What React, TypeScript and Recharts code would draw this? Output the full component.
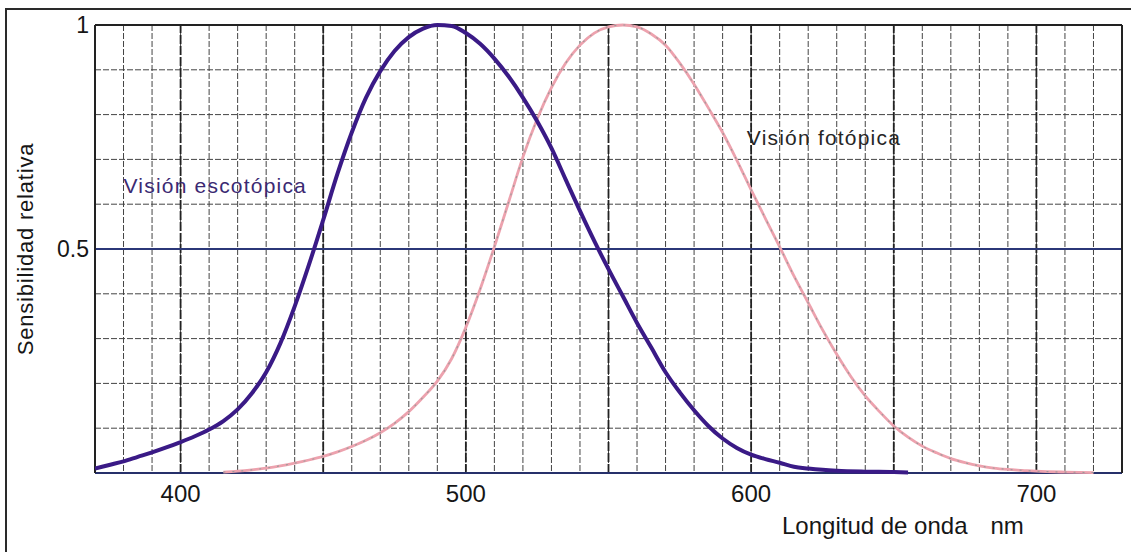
import { CartesianGrid, Line, LineChart, ReferenceDot, ReferenceLine, XAxis, YAxis } from "recharts";

const FONT = '"Liberation Sans", Arial, sans-serif';

// Escotópica (night vision), every 5 nm.
const scotopicNm = [
  370, 375, 380, 385, 390, 395, 400, 405, 410, 415, 420, 425, 430, 435, 440, 445, 450, 455, 460, 465,
  470, 475, 480, 485, 490, 495, 500, 505, 510, 515, 520, 525, 530, 535, 540, 545, 550, 555, 560, 565,
  570, 575, 580, 585, 590, 595, 600, 605, 610, 615, 620, 625, 630, 640, 650, 655,
];
const scotopicValue = [
  0.01, 0.018, 0.026, 0.036, 0.046, 0.057, 0.069, 0.082, 0.097, 0.116, 0.142, 0.178, 0.225, 0.29, 0.372,
  0.465, 0.565, 0.668, 0.76, 0.838, 0.897, 0.942, 0.973, 0.992, 1.0, 0.998, 0.982, 0.958, 0.925, 0.885,
  0.838, 0.785, 0.725, 0.655, 0.585, 0.518, 0.455, 0.395, 0.335, 0.28, 0.225, 0.18, 0.14, 0.105, 0.077,
  0.056, 0.041, 0.031, 0.023, 0.014, 0.01, 0.007, 0.005, 0.003, 0.002, 0.001,
];

// Fotópica (day vision).
const photopicNm = [
  415, 420, 425, 430, 435, 440, 445, 450, 455, 460, 465, 470, 475, 480, 485, 490, 495, 500, 505, 510,
  515, 520, 525, 530, 535, 540, 545, 550, 555, 560, 565, 570, 575, 580, 585, 590, 595, 600, 605, 610,
  615, 620, 625, 630, 635, 640, 645, 650, 655, 660, 665, 670, 675, 680, 685, 690, 695, 700, 710, 720,
];
const photopicValue = [
  0.002, 0.004, 0.007, 0.011, 0.016, 0.022, 0.029, 0.037, 0.047, 0.059, 0.073, 0.09, 0.111, 0.137,
  0.169, 0.205, 0.255, 0.325, 0.41, 0.505, 0.605, 0.705, 0.79, 0.86, 0.915, 0.955, 0.982, 0.996, 1.0,
  0.996, 0.98, 0.955, 0.915, 0.868, 0.815, 0.76, 0.698, 0.632, 0.568, 0.505, 0.44, 0.38, 0.32, 0.265,
  0.215, 0.172, 0.137, 0.105, 0.08, 0.06, 0.045, 0.032, 0.023, 0.016, 0.011, 0.008, 0.006, 0.004,
  0.002, 0.001,
];

const gridNm = [
  370, 380, 390, 400, 410, 420, 430, 440, 450, 460, 470, 480, 490, 500, 510, 520, 530, 540, 550, 560,
  570, 580, 590, 600, 610, 620, 630, 640, 650, 660, 670, 680, 690, 700, 710, 720, 730,
];
const gridLevel = [0, 0.1, 0.2, 0.3, 0.4, 0.5, 0.6, 0.7, 0.8, 0.9, 1];
const majorNm = [400, 450, 500, 550, 600, 650, 700];
const nmLabels = [400, 500, 600, 700];
const levelLabels = [0.5, 1];

const scotopic = scotopicNm.map((nm, i) => ({ nm, v: scotopicValue[i] }));
const photopic = photopicNm.map((nm, i) => ({ nm, v: photopicValue[i] }));

function NmTick({ x, y, payload }: any) {
  if (!nmLabels.includes(payload.value)) return <g />;
  return (
    <text x={x} y={y} dy="0.71em" textAnchor="middle" fontSize={24} fill="#161616" fontFamily={FONT}>
      {payload.value}
    </text>
  );
}

function LevelTick({ x, y, payload }: any) {
  if (!levelLabels.includes(payload.value)) return <g />;
  return (
    <text x={x} y={y} dy="0.355em" textAnchor="end" fontSize={23} fill="#161616" fontFamily={FONT}>
      {payload.value}
    </text>
  );
}

function CurveName({ cx, cy, text, color }: any) {
  return (
    <text x={cx} y={cy} fontSize={21} letterSpacing={1.2} fill={color} fontFamily={FONT}>
      {text}
    </text>
  );
}

export default function App() {
  return (
    <div
      style={{
        position: "absolute",
        left: 0,
        top: 0,
        width: 1131,
        height: 552,
        background: "#fff",
        overflow: "hidden",
        fontFamily: FONT,
      }}
    >
      <div
        style={{
          position: "absolute",
          left: 5,
          top: 8,
          right: -10,
          bottom: -10,
          borderTop: "2px solid #2a2a2a",
          borderLeft: "2px solid #2a2a2a",
        }}
      />
      <LineChart width={1131} height={552} margin={{ top: 25, right: 9, bottom: 0, left: 0 }}>
        <CartesianGrid stroke="#444" strokeDasharray="6 2" strokeWidth={1} />
        <XAxis
          type="number"
          dataKey="nm"
          domain={[370, 730]}
          ticks={gridNm}
          interval={0}
          allowDataOverflow
          height={79}
          tickLine={false}
          axisLine={false}
          tickSize={6}
          tickMargin={6}
          tick={<NmTick />}
          label={({ viewBox }: any) => (
            <text
              x={viewBox.x + viewBox.width - 340}
              y={viewBox.y + 61}
              fontSize={24}
              fill="#161616"
              fontFamily={FONT}
            >
              Longitud de onda
              <tspan dx={23}>nm</tspan>
            </text>
          )}
        />
        <YAxis
          type="number"
          domain={[0, 1]}
          ticks={gridLevel}
          interval={0}
          width={95}
          tickLine={false}
          axisLine={false}
          tickSize={6}
          tickMargin={0}
          tick={<LevelTick />}
          label={({ viewBox }: any) => {
            const cx = viewBox.x + 33;
            const cy = viewBox.y + viewBox.height / 2;
            return (
              <text
                x={cx}
                y={cy}
                transform={`rotate(-90 ${cx} ${cy})`}
                textAnchor="middle"
                fontSize={22}
                letterSpacing={0.8}
                fill="#161616"
                fontFamily={FONT}
              >
                Sensibilidad relativa
              </text>
            );
          }}
        />
        {majorNm.map((nm) => (
          <ReferenceLine key={nm} x={nm} stroke="#222" strokeWidth={1.8} strokeDasharray="9 2" />
        ))}
        <ReferenceLine y={0.5} stroke="#2b3778" strokeWidth={2} />
        <ReferenceLine y={1} stroke="#222" strokeWidth={2} />
        <ReferenceLine y={0} stroke="#26306a" strokeWidth={2} />
        <ReferenceLine x={370} stroke="#222" strokeWidth={2} />
        <ReferenceLine x={730} stroke="#222" strokeWidth={2} />
        <Line
          data={photopic}
          dataKey="v"
          type="monotone"
          stroke="#eda2ae"
          strokeWidth={2.8}
          dot={false}
          isAnimationActive={false}
        />
        <Line
          data={photopic}
          dataKey="v"
          type="monotone"
          stroke="#9a9a9a"
          strokeWidth={1.1}
          strokeDasharray="2 7"
          dot={false}
          isAnimationActive={false}
        />
        <Line
          data={scotopic}
          dataKey="v"
          type="monotone"
          stroke="#3a1a86"
          strokeWidth={4}
          dot={false}
          isAnimationActive={false}
        />
        <ReferenceDot
          x={380}
          y={0.625}
          r={0}
          shape={(p: any) => <CurveName {...p} text="Visión escotópica" color="#3b2a72" />}
        />
        <ReferenceDot
          x={598.5}
          y={0.732}
          r={0}
          shape={(p: any) => <CurveName {...p} text="Visión fotópica" color="#262626" />}
        />
      </LineChart>
    </div>
  );
}
